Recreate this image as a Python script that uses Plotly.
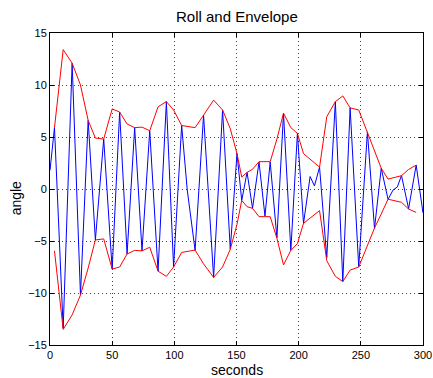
import plotly.graph_objects as go

# Roll signal (seconds, degrees)
roll_t = [0, 3.6, 10.6, 17.8, 24.5, 30.7, 36.5, 43.2, 50, 56, 62, 68.1, 74, 80.2,
          86.9, 93.6, 99.4, 105.9, 110.4, 116.7, 123.5, 131.6, 138.8, 145, 150.4,
          154.2, 158.5, 162.9, 168.1, 172.9, 177.1, 182.5, 187.8, 193.7, 199, 203.9,
          209.2, 212.7, 216.8, 222.6, 229.5, 235.5, 241.4, 248.3, 255.3, 261.0, 266.4,
          271.9, 275.9, 279.4, 282.7, 288.4, 294.5, 300]
roll_v = [1.8, 5.9, -13.4, 12.1, -10.2, 6.6, -4.9, 4.8, -7.7, 7.4, -6.25, 5.9, -5.95, 5.6,
          -7.9, 8.4, -7.5, 6.1, -0.1, -5.9, 7.1, -8.5, 7.6, -5.8, 3.4,
          -1.1, 1.6, -1.85, 2.6, -2.6, 2.6, -4.7, 7.3, -5.9, 5.35, -3.3,
          1.2, 0.3, 2.1, -6.6, 8.4, -8.9, 7.8, -7.5, 5.5, -3.8, 2.0,
          -1.0, -0.1, 0.2, 1.3, -1.9, 2.3, -2.3]

# Envelope (upper and lower)
env_t = [3.6, 10.6, 17.8, 24.5, 30.7, 36.5, 43.2, 50, 56, 62, 68.1, 74, 80.2, 86.9,
         93.6, 99.4, 105.9, 116.7, 123.5, 131.6, 138.8, 145, 150.4, 154.2, 158.5,
         162.9, 168.1, 172.9, 177.1, 182.5, 187.8, 193.7, 199, 203.9, 216.8, 222.6,
         229.5, 235.5, 241.4, 248.3, 255.3, 261.0, 266.4, 271.9, 282.7, 288.4, 294.5]
env_upper = [5.9, 13.4, 12.1, 10.0, 6.6, 4.9, 4.8, 7.7, 7.4, 6.25, 5.9, 5.95, 5.6, 7.9,
             8.4, 7.6, 6.1, 5.9, 7.1, 8.55, 7.6, 5.8, 3.4, 1.15, 1.6,
             1.9, 2.63, 2.63, 2.63, 4.8, 7.3, 5.9, 5.35, 3.4, 2.1, 6.95,
             8.4, 8.95, 7.8, 7.6, 5.5, 3.75, 2.0, 0.95, 1.28, 1.88, 2.3]
env_lower = [-5.95, -13.5, -12.1, -10.2, -7.6, -4.9, -4.8, -7.7, -7.5, -6.25, -5.9, -5.95, -5.6, -7.9,
             -8.4, -7.5, -6.1, -5.87, -7.2, -8.5, -7.5, -5.8, -3.4, -1.1, -1.7,
             -1.86, -2.66, -2.66, -2.66, -4.74, -7.3, -5.9, -5.25, -3.3, -2.08, -6.9,
             -8.4, -8.9, -7.8, -7.5, -5.45, -3.75, -2.4, -0.98, -1.28, -1.93, -2.25]

x_ticks = [0, 50, 100, 150, 200, 250, 300]
y_ticks = [-15, -10, -5, 0, 5, 10, 15]

FONT = "Liberation Sans, Arial, Helvetica, sans-serif"
W, H = 433, 378

fig = go.Figure()
fig.add_trace(go.Scatter(x=roll_t, y=roll_v, mode="lines", name="roll",
                         line=dict(color="#0000FF", width=1)))
fig.add_trace(go.Scatter(x=env_t, y=env_upper, mode="lines", name="upper",
                         line=dict(color="#FF0000", width=1)))
fig.add_trace(go.Scatter(x=env_t, y=env_lower, mode="lines", name="lower",
                         line=dict(color="#FF0000", width=1)))

axis_common = dict(
    showgrid=True, gridcolor="#444444", griddash="1px,3px", gridwidth=1,
    showline=True, linecolor="black", linewidth=1, mirror="ticks",
    ticks="inside", ticklen=4, tickcolor="black", tickwidth=1,
    zeroline=False, automargin=False,
    tickfont=dict(family=FONT, size=11, color="black"),
)

fig.update_layout(
    width=W, height=H,
    margin=dict(l=50, r=10, t=33, b=33),
    paper_bgcolor="white", plot_bgcolor="white",
    showlegend=False,
    font=dict(family=FONT, color="black"),
    xaxis=dict(range=[0, 300], tickvals=x_ticks, **axis_common),
    yaxis=dict(range=[-15, 15], tickvals=y_ticks, **axis_common),
    annotations=[
        dict(text="Roll and Envelope", xref="paper", yref="paper", x=0.5,
             y=1 + 16 / 312, xanchor="center", yanchor="middle", showarrow=False,
             font=dict(family=FONT, size=15, color="black")),
        dict(text="seconds", xref="paper", yref="paper", x=0.5,
             y=-25 / 312, xanchor="center", yanchor="middle", showarrow=False,
             font=dict(family=FONT, size=14, color="black")),
        dict(text="angle", xref="paper", yref="paper", x=-34 / 373,
             y=0.47, xanchor="center", yanchor="middle", showarrow=False,
             textangle=-90, font=dict(family=FONT, size=14, color="black")),
    ],
)

fig.write_html("out.html",
               config={"displayModeBar": False},
               post_script="document.body.style.margin='0';document.body.style.overflow='hidden';")
